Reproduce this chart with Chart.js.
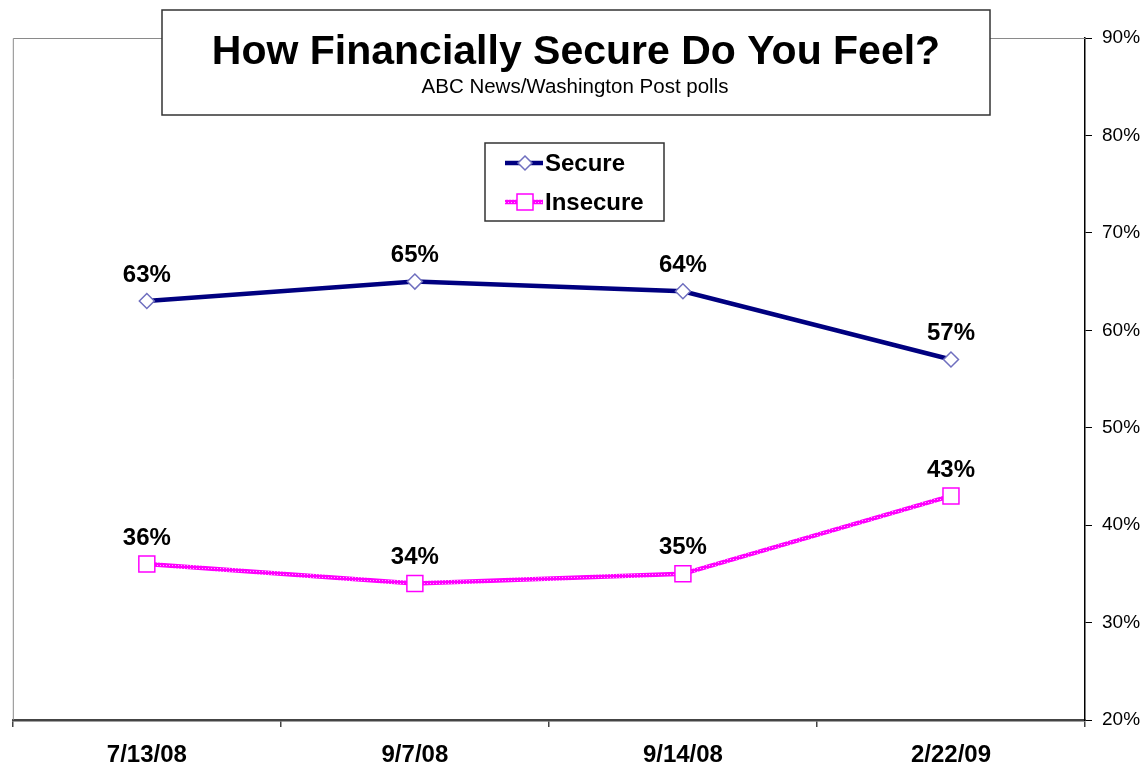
<!DOCTYPE html>
<html lang="en">
<head>
<meta charset="UTF-8">
<title>How Financially Secure Do You Feel?</title>
<script src="https://cdn.jsdelivr.net/npm/chart.js"></script>
<style>
  body { margin: 0; background: #fff; }
</style>
</head>
<body>
<canvas id="chart" width="1148" height="768"></canvas>
<script>
// poll dates and percentages
const pollDates = ['7/13/08', '9/7/08', '9/14/08', '2/22/09'];
const secure = [63, 65, 64, 57];
const insecure = [36, 34, 35, 43];
const yTicks = [20, 30, 40, 50, 60, 70, 80, 90];
const chartTitle = 'How Financially Secure Do You Feel?';
const chartSubtitle = 'ABC News/Washington Post polls';

const FONT = '"Liberation Sans", Arial, sans-serif';

// magenta stroke with a light dotted texture
function dottedMagenta() {
  const c = document.createElement('canvas');
  c.width = 3; c.height = 3;
  const g = c.getContext('2d');
  g.fillStyle = '#ff00ff';
  g.fillRect(0, 0, 3, 3);
  g.fillStyle = '#ffa8ff';
  g.fillRect(1, 1, 1, 1);
  return g.createPattern(c, 'repeat');
}
const insecureStroke = dottedMagenta();

// gray border on the top and left of the plot area
const plotFrame = {
  id: 'plotFrame',
  beforeDatasetsDraw(chart) {
    const { ctx, chartArea: a } = chart;
    ctx.save();
    ctx.strokeStyle = '#8a8a8a';
    ctx.lineWidth = 1;
    ctx.beginPath();
    ctx.moveTo(a.left + 0.5, a.bottom);
    ctx.lineTo(a.left + 0.5, a.top + 0.5);
    ctx.lineTo(a.right, a.top + 0.5);
    ctx.stroke();
    ctx.restore();
  }
};

// percentage above every point
const valueLabels = {
  id: 'valueLabels',
  afterDatasetsDraw(chart) {
    const { ctx } = chart;
    ctx.save();
    ctx.font = 'bold 24px ' + FONT;
    ctx.fillStyle = '#000';
    ctx.textAlign = 'center';
    ctx.textBaseline = 'middle';
    chart.data.datasets.forEach((ds, i) => {
      chart.getDatasetMeta(i).data.forEach((pt, j) => {
        ctx.fillText(ds.data[j] + '%', pt.x, pt.y - 26);
      });
    });
    ctx.restore();
  }
};

// boxed title and the legend box
const boxes = {
  id: 'boxes',
  afterDraw(chart) {
    const { ctx } = chart;
    ctx.save();
    ctx.fillStyle = '#fff';
    ctx.fillRect(162, 10, 828, 105);
    ctx.strokeStyle = '#333';
    ctx.lineWidth = 1.5;
    ctx.strokeRect(162, 10, 828, 105);
    ctx.fillStyle = '#000';
    ctx.textAlign = 'center';
    ctx.textBaseline = 'middle';
    ctx.font = 'bold 41px ' + FONT;
    ctx.fillText(chartTitle, 576, 53);
    ctx.font = '20.5px ' + FONT;
    ctx.fillText(chartSubtitle, 575, 87);

    ctx.fillStyle = '#fff';
    ctx.fillRect(485, 143, 179, 78);
    ctx.strokeRect(485, 143, 179, 78);
    chart.data.datasets.forEach((ds, i) => {
      const y = 163 + i * 39;
      ctx.save();
      ctx.strokeStyle = ds.borderColor;
      ctx.lineWidth = ds.borderWidth;
      ctx.beginPath();
      ctx.moveTo(505, y);
      ctx.lineTo(543, y);
      ctx.stroke();
      ctx.restore();
      ctx.save();
      ctx.fillStyle = ds.pointBackgroundColor;
      ctx.strokeStyle = ds.pointBorderColor;
      ctx.lineWidth = ds.pointBorderWidth;
      ctx.beginPath();
      if (ds.pointStyle === 'rectRot') {
        ctx.moveTo(525, y - 7); ctx.lineTo(532, y); ctx.lineTo(525, y + 7); ctx.lineTo(518, y);
        ctx.closePath();
      } else {
        ctx.rect(517, y - 8, 16, 16);
      }
      ctx.fill();
      ctx.stroke();
      ctx.restore();
      ctx.fillStyle = '#000';
      ctx.textAlign = 'left';
      ctx.font = 'bold 24px ' + FONT;
      ctx.fillText(ds.label, 545, y + 1);
    });
    ctx.restore();
  }
};

new Chart(document.getElementById('chart'), {
  type: 'line',
  data: {
    labels: pollDates,
    datasets: [
      {
        label: 'Secure',
        data: secure,
        borderColor: '#000080',
        borderWidth: 4.5,
        pointStyle: 'rectRot',
        pointRadius: 7.5,
        pointBackgroundColor: '#fff',
        pointBorderColor: '#6f6fbf',
        pointBorderWidth: 1.5
      },
      {
        label: 'Insecure',
        data: insecure,
        borderColor: insecureStroke,
        borderWidth: 4.5,
        pointStyle: 'rect',
        pointRadius: 11.3,
        pointBackgroundColor: '#fff',
        pointBorderColor: '#ff00ff',
        pointBorderWidth: 1.5
      }
    ]
  },
  options: {
    responsive: false,
    animation: false,
    layout: { padding: { left: 11, top: 38, right: 0, bottom: 0 } },
    plugins: {
      legend: { display: false },
      tooltip: { enabled: false }
    },
    scales: {
      x: {
        offset: true,
        grid: { offset: true, drawOnChartArea: false, tickLength: 7, color: '#444', lineWidth: 1.5 },
        border: { color: '#444', width: 2.5 },
        ticks: { color: '#000', font: { family: FONT, size: 24, weight: 'bold' }, padding: 14 },
        afterFit(axis) {
          axis.height = 48;
          axis.paddingLeft = 0;
          axis.paddingRight = 0;
        }
      },
      y: {
        position: 'right',
        min: 20,
        max: 90,
        afterBuildTicks(axis) { axis.ticks = yTicks.map(v => ({ value: v })); },
        grid: { drawOnChartArea: false, tickLength: 7, color: '#000' },
        border: { color: '#000', width: 1.5 },
        ticks: { color: '#000', font: { family: FONT, size: 19 }, padding: 10, callback: v => v + '%' },
        afterFit(axis) { axis.width = 63; }
      }
    }
  },
  plugins: [plotFrame, valueLabels, boxes]
});
</script>
</body>
</html>
